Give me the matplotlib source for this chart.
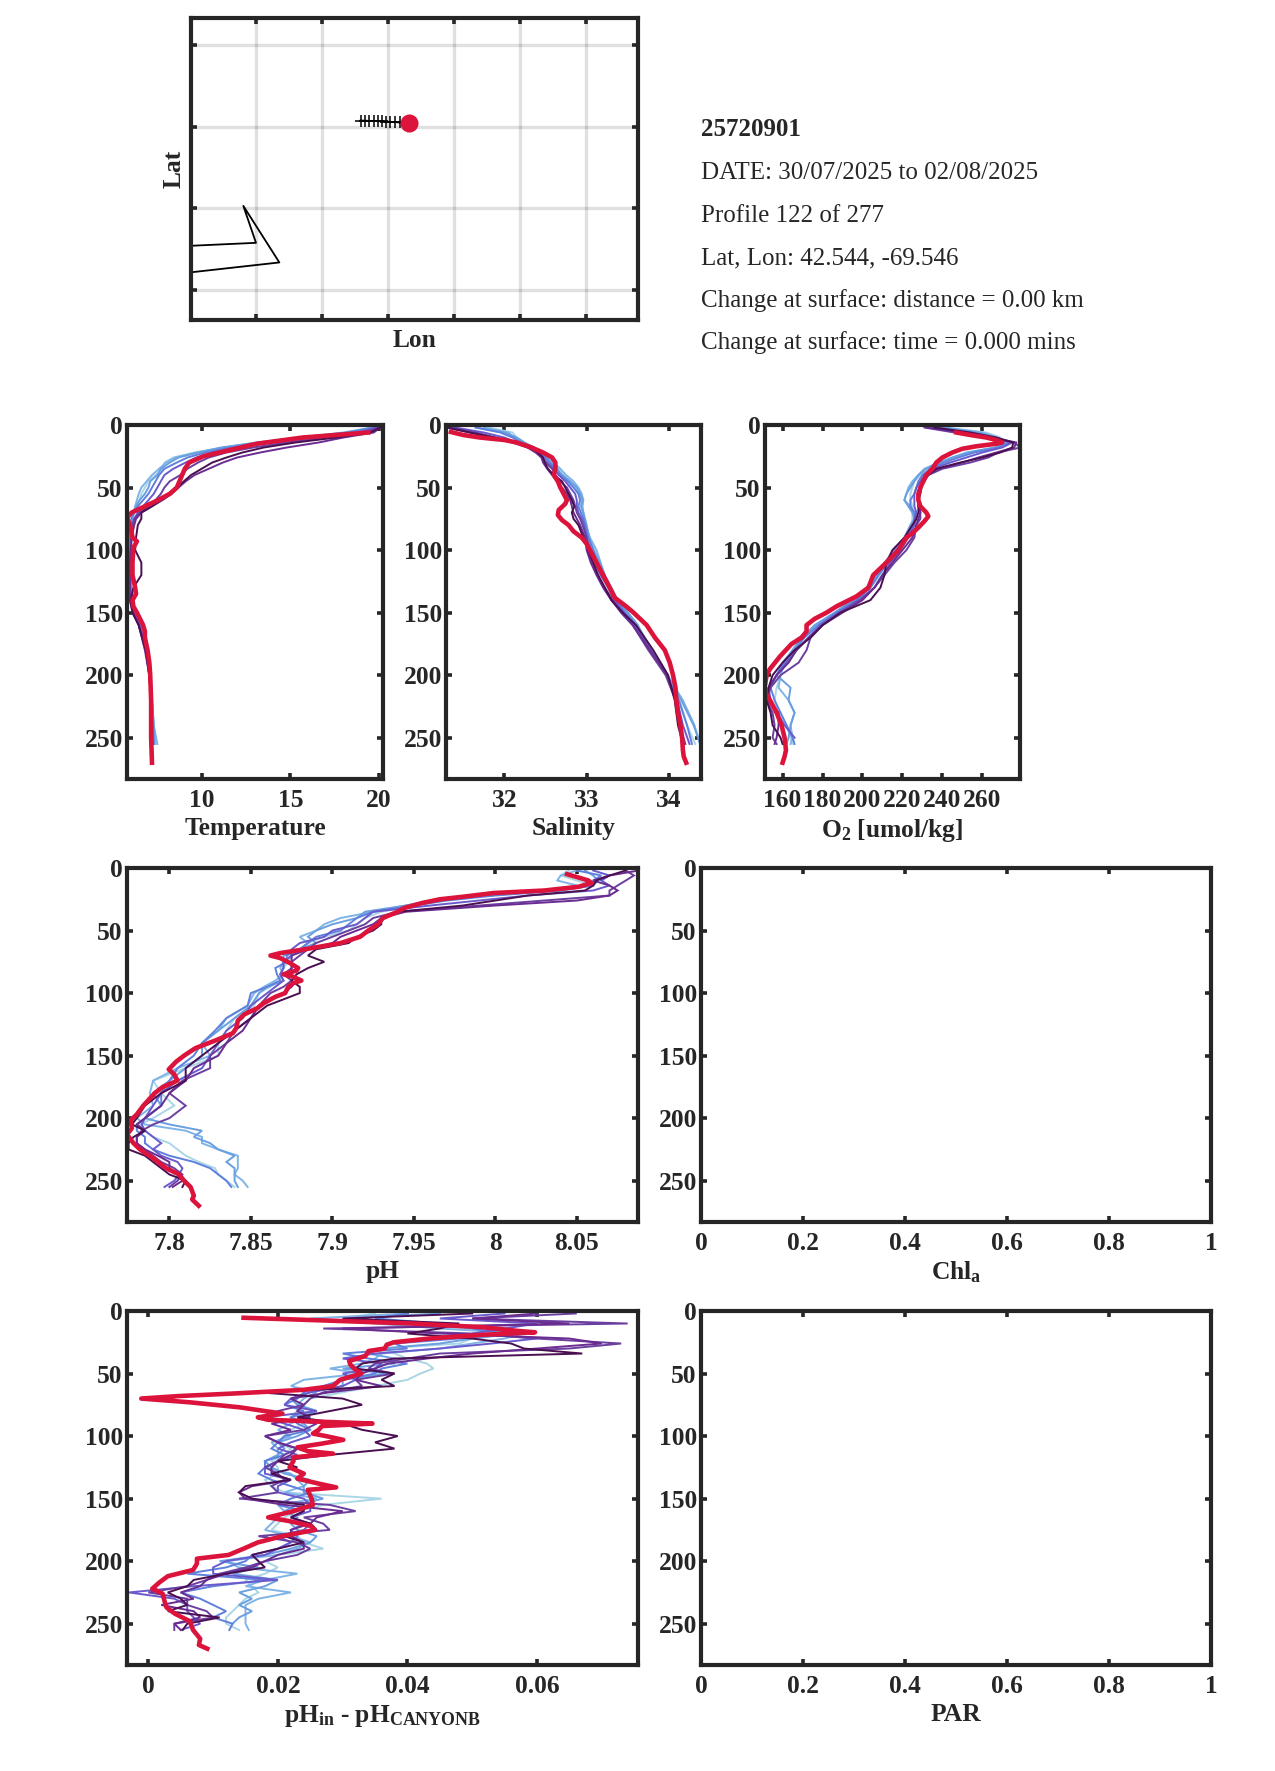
import matplotlib
matplotlib.use("Agg")
import matplotlib.pyplot as plt

plt.rcParams['font.family'] = ['Liberation Serif', 'DejaVu Serif']
plt.rcParams['mathtext.fontset'] = 'custom'
plt.rcParams['mathtext.rm'] = 'Liberation Serif:bold'
plt.rcParams['mathtext.bf'] = 'Liberation Serif:bold'
plt.rcParams['mathtext.default'] = 'rm'

W, H = 1275, 1771
DARK = '#262626'
RED = '#dc143c'
line_colors = ['#aad6e6', '#7fb4e6', '#6a9fe0', '#5f80dc', '#6a5acd', '#6b3fa0', '#6a2c91', '#4a0f50']

# map panel
track_lon = [-69.912, -69.879, -69.847, -69.811, -69.778, -69.753, -69.72, -69.69, -69.652, -69.614, -69.576, -69.546]
track_lat = [42.558, 42.557, 42.556, 42.555, 42.554, 42.553, 42.552, 42.55, 42.548, 42.546, 42.544, 42.544]
coast_lon = [-71.25, -70.705, -70.801, -70.528, -71.25]
coast_lat = [41.79, 41.81, 42.036, 41.69, 41.625]
map_xticks = [-70.703, -70.203, -69.703, -69.203, -68.703, -68.203]
map_yticks = [43.022, 42.517, 42.022, 41.52]
info_lines = ["25720901", "DATE: 30/07/2025 to 02/08/2025", "Profile 122 of 277", "Lat, Lon: 42.544, -69.546",
              "Change at surface: distance = 0.00 km", "Change at surface: time = 0.000 mins"]

depth_ticks = [0, 50, 100, 150, 200, 250]

# thin profiles, light to dark
t_depth = [2, 6, 10, 14, 18, 22, 26, 30, 35, 40, 45, 50, 55, 60, 65, 70, 75, 80, 90, 100, 110, 120, 130, 140, 150, 160, 180, 200, 220, 240, 255]
temp_lines = [
    [19.7, 18.2, 15.8, 13.2, 11.2, 9.6, 8.4, 7.9, 7.8, 7.4, 7.0, 6.8, 6.6, 6.5, 6.3, 6.2, 6.1, 6.05, 6.0, 5.95, 5.95, 5.95, 6.0, 6.05, 6.2, 6.6, 6.95, 7.1, 7.2, 7.3, 7.45],
    [19.8, 18.3, 15.9, 13.3, 11.3, 9.7, 8.5, 8.0, 7.6, 7.2, 6.9, 6.6, 6.45, 6.35, 6.25, 6.15, 6.05, 6.0, 5.95, 5.95, 5.9, 5.95, 6.0, 6.05, 6.25, 6.6, 6.95, 7.1, 7.2, 7.3, 7.5],
    [19.6, 18.0, 15.6, 13.1, 11.1, 9.8, 8.7, 8.2, 7.7, 7.5, 7.1, 7.0, 6.8, 6.5, 6.3, 6.15, 6.05, 6.0, 5.95, 5.9, 5.95, 6.0, 6.0, 6.1, 6.25, 6.6, 6.9, 7.1, 7.2, 7.3, 7.35],
    [19.8, 18.4, 16.0, 13.5, 11.6, 10.2, 9.2, 8.6, 7.9, 7.6, 7.4, 7.2, 7.0, 6.7, 6.4, 6.2, 6.05, 6.0, 5.95, 5.95, 5.95, 6.0, 6.0, 6.05, 6.2, 6.5, 6.9, 7.1, 7.2, 7.25, 7.3],
    [19.9, 18.8, 16.5, 14.0, 12.0, 10.6, 9.7, 9.1, 8.4, 7.9, 7.7, 7.5, 7.3, 7.0, 6.7, 6.4, 6.2, 6.1, 6.0, 6.0, 5.95, 5.95, 5.95, 6.0, 6.2, 6.5, 6.85, 7.05, 7.15, 7.2, 7.25],
    [20.0, 19.2, 17.2, 14.8, 12.9, 11.4, 10.4, 9.8, 9.2, 8.8, 8.2, 7.9, 7.7, 7.4, 7.0, 6.5, 6.2, 6.1, 6.05, 6.0, 5.95, 5.95, 5.95, 5.95, 6.15, 6.45, 6.85, 7.05, 7.15, 7.2, 7.2],
    [20.1, 19.7, 18.0, 16.6, 14.8, 13.3, 12.0, 11.2, 10.4, 9.6, 9.1, 8.7, 8.3, 7.8, 7.2, 6.6, 6.3, 6.2, 6.05, 6.0, 5.95, 5.95, 5.95, 5.95, 6.1, 6.45, 6.8, 7.05, 7.15, 7.2, 7.2],
    [20.1, 19.5, 17.6, 15.3, 13.5, 12.3, 11.4, 10.6, 10.0, 9.4, 9.0, 8.6, 8.3, 7.7, 7.2, 6.6, 6.6, 6.4, 6.3, 6.25, 6.6, 6.6, 6.15, 6.0, 6.1, 6.45, 6.85, 7.05, 7.15, 7.15, 7.15],
]
temp_red_depth = [6, 10, 15, 20, 25, 30, 35, 40, 50, 55, 60, 65, 70, 74, 78, 82, 90, 93, 98, 110, 120, 130, 135, 140, 145, 150, 160, 165, 170, 180, 190, 200, 220, 250, 270]
temp_red = [19.4, 15.7, 13.1, 11.6, 10.1, 9.3, 9.05, 8.9, 8.6, 8.2, 7.55, 6.8, 6.05, 5.8, 5.9, 6.0, 6.1, 6.35, 6.15, 6.1, 6.1, 6.25, 6.3, 6.1, 6.15, 6.35, 6.7, 6.8, 6.8, 6.95, 7.05, 7.1, 7.15, 7.15, 7.2]

sal_lines = [
    [31.8, 32.1, 32.15, 32.25, 32.36, 32.45, 32.52, 32.58, 32.65, 32.72, 32.8, 32.86, 32.9, 32.93, 32.94, 32.95, 32.96, 32.98, 33.03, 33.1, 33.15, 33.22, 33.28, 33.38, 33.5, 33.62, 33.8, 33.99, 34.13, 34.22, 34.32],
    [31.75, 32.05, 32.12, 32.22, 32.35, 32.44, 32.52, 32.6, 32.68, 32.75, 32.84, 32.9, 32.94, 32.96, 32.95, 32.96, 32.97, 32.99, 33.04, 33.12, 33.17, 33.22, 33.28, 33.38, 33.5, 33.62, 33.78, 33.98, 34.17, 34.31, 34.38],
    [31.65, 32.0, 32.15, 32.24, 32.36, 32.44, 32.51, 32.56, 32.64, 32.7, 32.8, 32.88, 32.92, 32.95, 32.93, 32.96, 32.98, 33.0, 33.03, 33.08, 33.16, 33.22, 33.3, 33.38, 33.5, 33.62, 33.77, 33.98, 34.15, 34.3, 34.38],
    [31.65, 31.95, 32.1, 32.2, 32.33, 32.42, 32.5, 32.55, 32.62, 32.68, 32.77, 32.84, 32.9, 32.92, 32.9, 32.93, 32.96, 32.98, 33.02, 33.08, 33.13, 33.2, 33.28, 33.36, 33.47, 33.6, 33.78, 33.97, 34.12, 34.22, 34.28],
    [31.4, 31.75, 32.0, 32.15, 32.3, 32.4, 32.47, 32.52, 32.6, 32.66, 32.74, 32.8, 32.86, 32.88, 32.88, 32.9, 32.94, 32.97, 33.0, 33.05, 33.1, 33.17, 33.26, 33.34, 33.45, 33.58, 33.78, 33.97, 34.1, 34.17, 34.25],
    [31.35, 31.65, 31.9, 32.12, 32.3, 32.4, 32.46, 32.5, 32.58, 32.62, 32.68, 32.76, 32.8, 32.84, 32.86, 32.88, 32.92, 32.95, 33.0, 33.02, 33.06, 33.13, 33.22, 33.32, 33.42, 33.56, 33.75, 33.96, 34.08, 34.13, 34.2],
    [31.3, 31.58, 31.85, 32.1, 32.28, 32.38, 32.45, 32.47, 32.52, 32.58, 32.64, 32.7, 32.76, 32.8, 32.82, 32.84, 32.88, 32.92, 32.98, 33.0, 33.05, 33.12, 33.2, 33.3, 33.42, 33.56, 33.77, 33.98, 34.08, 34.13, 34.18],
    [31.3, 31.58, 31.87, 32.15, 32.31, 32.41, 32.47, 32.49, 32.53, 32.6, 32.7, 32.74, 32.78, 32.82, 32.85, 32.82, 32.84, 32.9, 32.96, 33.02, 33.08, 33.14, 33.22, 33.3, 33.44, 33.6, 33.81, 33.99, 34.07, 34.11, 34.17],
]
sal_red_depth = [5.6, 8, 10, 12, 14, 18, 22, 26, 30, 35, 40, 45, 50, 55, 60, 63, 68, 72, 76, 80, 85, 90, 95, 100, 110, 120, 130, 138, 145, 150, 160, 170, 180, 190, 200, 210, 220, 230, 240, 250, 260, 265, 270]
sal_red = [31.35, 31.5, 31.7, 32.0, 32.15, 32.33, 32.47, 32.58, 32.62, 32.62, 32.6, 32.65, 32.68, 32.72, 32.76, 32.74, 32.66, 32.65, 32.7, 32.78, 32.84, 32.94, 33.0, 33.04, 33.12, 33.2, 33.28, 33.34, 33.48, 33.57, 33.73, 33.83, 33.95, 34.01, 34.05, 34.08, 34.09, 34.11, 34.14, 34.16, 34.17, 34.18, 34.21]

o_depth = [2, 6, 10, 14, 18, 22, 26, 30, 35, 40, 45, 50, 55, 60, 65, 70, 75, 80, 90, 100, 110, 120, 130, 140, 150, 160, 170, 180, 190, 200, 210, 220, 230, 240, 250, 255]
o2_lines = [
    [242, 262, 269, 271, 267, 254, 247, 240, 232, 229, 226, 225, 224, 224, 225, 225, 225, 224.6, 221, 216, 213, 209, 204, 196, 187, 177, 168, 165, 161, 159, 157, 156, 158, 162, 164, 165],
    [240, 260, 268, 272, 266, 252, 245, 238, 231, 228, 225, 223, 222, 221, 224, 226, 226, 225, 222, 216, 212, 207, 203, 196, 187, 177, 170, 166, 161, 159, 158, 163, 166, 164, 165, 164],
    [240, 258, 267, 272, 267, 253, 245, 239, 232, 228, 226, 224, 222, 221, 223, 225, 226, 224, 221, 216, 211, 207, 202, 195, 186, 176, 170, 165, 160, 157, 164, 163, 166, 164, 163, 162],
    [236, 255, 266, 274, 268, 256, 248, 241, 234, 230, 228, 227, 226, 224, 224, 226, 227, 226, 222, 217, 213, 208, 204, 197, 187, 178, 171, 166, 161, 157, 154, 156, 159, 162, 165, 166],
    [235, 252, 264, 275, 270, 260, 252, 244, 235, 231, 229, 227, 226, 226, 226, 227, 226, 226, 223, 219, 214, 210, 206, 198, 188, 179, 173, 167, 162, 157, 153, 154, 157, 161, 166],
    [231, 246, 262, 276, 279, 268, 263, 254, 240, 233, 231, 229, 228, 228, 229, 229, 229, 227, 226, 222, 216, 211, 206, 199, 189, 180, 174, 172, 168, 159, 154, 152, 155, 156, 155, 157],
    [232, 250, 265, 277, 276, 267, 258, 250, 238, 232, 230, 229, 228, 228, 228, 229, 228, 227, 225, 220, 215, 210, 206, 200, 190, 180, 173, 167, 163, 157, 153, 153, 158, 158, 157, 156],
    [236, 254, 267, 275.5, 275, 269, 260, 249, 237, 233, 230, 229.6, 229, 228, 228, 228, 227, 225, 221, 215, 212, 211, 209, 204, 189, 180, 174, 166, 160, 155, 153, 152, 154, 155, 159, 160],
]
o2_red_depth = [6, 8, 10, 12, 14, 15, 17, 19, 22, 26, 30, 35, 40, 45, 50, 55, 60, 65, 70, 73, 77, 82, 87, 90, 100, 110, 115, 120, 130, 137, 145, 150, 155, 160, 165, 170, 175, 185, 195, 200, 210, 215, 220, 230, 240, 250, 260, 265, 270]
o2_red = [247, 254, 262, 267, 270, 267, 257, 250, 245, 240, 237, 235, 232, 230.5, 229, 228, 228, 229, 232, 233, 231, 228, 224.6, 222, 218, 212, 208.7, 205.4, 203, 197, 187, 182, 176, 172, 172, 169.5, 164.5, 158.7, 153.7, 152, 151, 151.8, 153.7, 157, 159.5, 161, 161.7, 161, 160]

ph_depth = [2, 6, 10, 14, 18, 22, 26, 30, 35, 40, 45, 50, 55, 60, 65, 70, 75, 80, 85, 90, 95, 100, 110, 120, 130, 140, 150, 160, 170, 180, 190, 200, 205, 210, 215, 220, 225, 230, 235, 240, 245, 250, 255]
ph_lines = [
    [8.045, 8.04, 8.05, 8.06, 8.04, 7.995, 7.97, 7.95, 7.93, 7.92, 7.915, 7.91, 7.895, 7.885, 7.88, 7.875, 7.873, 7.87, 7.868, 7.868, 7.862, 7.855, 7.852, 7.84, 7.835, 7.83, 7.83, 7.81, 7.79, 7.795, 7.803, 7.79, 7.782, 7.785, 7.79, 7.8, 7.805, 7.81, 7.818, 7.828, 7.83, 7.835, 7.84],
    [8.05, 8.04, 8.038, 8.05, 8.04, 7.99, 7.965, 7.945, 7.925, 7.905, 7.895, 7.89, 7.88, 7.885, 7.88, 7.875, 7.87, 7.868, 7.87, 7.865, 7.858, 7.852, 7.848, 7.835, 7.83, 7.82, 7.825, 7.805, 7.79, 7.788, 7.79, 7.78, 7.785, 7.81, 7.82, 7.82, 7.83, 7.842, 7.842, 7.842, 7.84, 7.845, 7.848],
    [8.055, 8.06, 8.063, 8.06, 8.03, 7.985, 7.96, 7.945, 7.92, 7.915, 7.9, 7.89, 7.885, 7.89, 7.88, 7.87, 7.87, 7.87, 7.868, 7.87, 7.86, 7.855, 7.85, 7.84, 7.83, 7.82, 7.82, 7.81, 7.8, 7.79, 7.795, 7.785, 7.8, 7.82, 7.815, 7.825, 7.83, 7.84, 7.835, 7.84, 7.84, 7.84, 7.842],
    [8.05, 8.065, 8.06, 8.06, 8.04, 8.0, 7.97, 7.95, 7.925, 7.915, 7.91, 7.905, 7.89, 7.885, 7.88, 7.872, 7.872, 7.865, 7.866, 7.868, 7.86, 7.85, 7.848, 7.835, 7.828, 7.82, 7.815, 7.805, 7.8, 7.795, 7.795, 7.785, 7.78, 7.78, 7.785, 7.785, 7.79, 7.8, 7.815, 7.825, 7.83, 7.835, 7.838],
    [8.06, 8.07, 8.065, 8.07, 8.06, 8.02, 7.99, 7.96, 7.925, 7.92, 7.915, 7.9, 7.895, 7.88, 7.875, 7.875, 7.87, 7.87, 7.868, 7.87, 7.865, 7.86, 7.85, 7.845, 7.835, 7.83, 7.825, 7.82, 7.805, 7.795, 7.79, 7.785, 7.783, 7.785, 7.79, 7.795, 7.79, 7.795, 7.805, 7.808, 7.806, 7.803, 7.797],
    [8.08, 8.085, 8.08, 8.075, 8.07, 8.07, 8.03, 7.99, 7.94, 7.925, 7.92, 7.91, 7.9, 7.89, 7.885, 7.88, 7.875, 7.875, 7.87, 7.875, 7.87, 7.862, 7.855, 7.85, 7.84, 7.835, 7.825, 7.825, 7.808, 7.8, 7.81, 7.8, 7.79, 7.783, 7.78, 7.78, 7.785, 7.79, 7.795, 7.803, 7.808, 7.805, 7.8],
    [8.088, 8.07, 8.06, 8.07, 8.075, 8.07, 8.05, 8.0, 7.945, 7.93, 7.925, 7.915, 7.905, 7.9, 7.885, 7.875, 7.875, 7.875, 7.875, 7.878, 7.875, 7.87, 7.855, 7.85, 7.845, 7.835, 7.83, 7.815, 7.81, 7.8, 7.795, 7.785, 7.78, 7.785, 7.78, 7.78, 7.785, 7.793, 7.8, 7.8, 7.805, 7.808, 7.802],
    [8.08, 8.07, 8.062, 8.06, 8.055, 8.02, 8.0, 7.98, 7.94, 7.93, 7.93, 7.925, 7.915, 7.91, 7.89, 7.885, 7.895, 7.885, 7.878, 7.875, 7.88, 7.88, 7.86, 7.85, 7.84, 7.83, 7.82, 7.81, 7.81, 7.795, 7.785, 7.78, 7.777, 7.785, 7.778, 7.775, 7.775, 7.785, 7.79, 7.795, 7.8, 7.81, 7.808],
]
ph_red_depth = [5, 8, 10, 12, 15, 18, 20, 23, 25, 28, 32, 35, 40, 45, 50, 55, 60, 65, 68, 70, 72, 76, 80, 82, 85, 87, 90, 92, 95, 100, 103, 108, 112, 117, 122, 128, 132, 138, 144, 150, 155, 161, 165, 170, 175, 180, 190, 197, 202, 208, 213, 220, 225, 232, 240, 245, 250, 255, 262, 265, 270]
ph_red = [8.044, 8.052, 8.057, 8.059, 8.051, 8.03, 7.999, 7.98, 7.966, 7.955, 7.944, 7.94, 7.931, 7.928, 7.922, 7.917, 7.905, 7.883, 7.868, 7.862, 7.868, 7.874, 7.879, 7.878, 7.87, 7.876, 7.881, 7.876, 7.873, 7.871, 7.865, 7.858, 7.854, 7.846, 7.842, 7.841, 7.839, 7.828, 7.816, 7.809, 7.804, 7.7996, 7.803, 7.805, 7.796, 7.791, 7.784, 7.78, 7.776, 7.777, 7.774, 7.778, 7.782, 7.79, 7.798, 7.806, 7.809, 7.813, 7.815, 7.814, 7.818]

diff_depth = [2, 6, 10, 14, 18, 22, 26, 30, 34, 38, 42, 46, 50, 55, 60, 65, 70, 75, 80, 85, 90, 95, 100, 105, 110, 115, 120, 125, 130, 135, 140, 145, 150, 155, 160, 165, 170, 175, 180, 185, 190, 195, 200, 205, 210, 215, 220, 225, 230, 235, 240, 245, 250, 255]
diff_lines = [
    [.035, .03, .036, .05, .053, .05, .048, .036, .038, .04, .043, .044, .042, .04, .035, .03, .025, .024, .023, .022, .024, .022, .021, .02, .022, .021, .019, .02, .02, .018, .019, .021, .036, .027, .023, .021, .02, .019, .023, .024, .027, .02, .018, .02, .018, .015, .016, .017, .015, .014, .013, .012, .012, .014],
    [.04, .025, .035, .045, .058, .055, .05, .045, .036, .035, .033, .028, .033, .024, .022, .026, .024, .023, .026, .024, .022, .02, .022, .019, .02, .02, .02, .018, .022, .023, .024, .021, .026, .02, .021, .02, .019, .018, .022, .025, .023, .02, .012, .014, .023, .018, .015, .022, .017, .015, .015, .015, .015, .0155],
    [.045, .03, .04, .052, .057, .05, .045, .036, .034, .038, .038, .03, .037, .03, .03, .025, .022, .023, .026, .022, .024, .025, .023, .02, .021, .02, .018, .019, .021, .025, .024, .024, .027, .023, .021, .023, .022, .023, .026, .025, .022, .018, .011, .017, .013, .02, .018, .014, .016, .014, .016, .014, .013],
    [.04, .035, .045, .05, .055, .048, .038, .04, .03, .034, .04, .036, .035, .03, .027, .024, .023, .021, .024, .022, .023, .025, .021, .02, .019, .021, .018, .018, .017, .019, .022, .025, .022, .02, .024, .022, .024, .022, .023, .022, .02, .016, .015, .012, .006, .018, .01, .005, .008, .01, .012, .01, .013, .0125],
    [.055, .045, .06, .055, .05, .06, .053, .045, .035, .03, .036, .035, .03, .032, .03, .025, .022, .021, .026, .018, .021, .024, .025, .022, .02, .023, .02, .018, .018, .022, .02, .02, .024, .025, .025, .022, .025, .024, .02, .022, .02, .018, .012, .01, .01, .02, .007, -.003, .004, .006, .006, .007, .008, .005],
    [.066, .05, .074, .027, .05, .06, .073, .065, .045, .04, .035, .034, .038, .032, .033, .027, .025, .024, .02, .018, .026, .024, .018, .02, .023, .021, .02, .018, .02, .021, .019, .02, .014, .028, .032, .024, .027, .028, .017, .023, .025, .023, .018, .015, .011, .009, .006, .0, .006, .006, .009, .01, .004, .004],
    [.06, .05, .065, .03, .045, .065, .07, .06, .05, .043, .037, .035, .033, .032, .036, .028, .022, .024, .023, .025, .019, .022, .018, .02, .023, .022, .02, .019, .019, .022, .016, .014, .015, .021, .03, .026, .025, .022, .022, .024, .024, .02, .018, .016, .012, .009, .008, .005, .007, .002, .007, .008, .004, .005],
    [.05, .03, .048, .045, .04, .05, .056, .058, .067, .038, .033, .032, .038, .036, .038, .017, .03, .033, .028, .023, .03, .033, .0385, .035, .038, .028, .02, .023, .019, .022, .015, .014, .016, .024, .024, .022, .025, .026, .021, .024, .02, .016, .017, .018, .012, .007, .006, .003, .005, .006, .003, .011, .006, .0053],
]
diff_red_depth = [5.4, 8, 10, 13, 16, 17, 19, 22, 25, 27, 30, 32, 36, 40, 43, 47, 50, 55, 60, 63, 66, 68, 70, 73, 77, 80, 82, 85, 87, 90, 92, 95, 98, 100, 103, 106, 109, 112, 114, 117, 120, 125, 130, 134, 138, 141, 143, 150, 155, 160, 165, 168, 172, 175, 180, 185, 190, 195, 198, 202, 207, 212, 217, 222, 226, 232, 237, 242, 248, 255, 262, 267, 270]
diff_red = [.0147, .0296, .0406, .0517, .0572, .0597, .0517, .0434, .0379, .0368, .0365, .034, .0335, .031, .0312, .032, .0329, .0296, .0285, .024, .013, .0047, -.0011, .0064, .0141, .018, .0207, .0169, .0185, .0346, .0268, .0263, .0254, .0274, .0301, .0268, .023, .0246, .0285, .0224, .0224, .0218, .024, .023, .0263, .029, .0246, .0252, .0254, .0224, .0185, .0218, .0252, .0257, .0207, .0169, .0147, .0124, .0075, .0075, .0069, .003, .0017, .0006, .0022, .0025, .0028, .0041, .0064, .0069, .008, .0078, .0091]


def add_axes(left, right, top, bottom):
    return fig.add_axes([left / W, 1 - bottom / H, (right - left) / W, (bottom - top) / H])


def style_axes(ax, tick_size=18.4):
    for s in ax.spines.values():
        s.set_linewidth(3.0)
        s.set_color(DARK)
    ax.tick_params(direction='in', length=4.5, width=2.6, color=DARK, top=True, right=True, labelcolor=DARK)
    for lab in ax.get_xticklabels() + ax.get_yticklabels():
        lab.set_fontsize(tick_size)
        lab.set_fontweight('bold')


def profile_panel(box, xlim, xticks, xticklabels, xlabel, lines=None, grid=None, red_x=None, red_d=None):
    ax = add_axes(*box)
    if lines is not None:
        for vals, col in zip(lines, line_colors):
            ax.plot(vals, grid[:len(vals)], color=col, lw=1.4, solid_joinstyle='miter')
        ax.plot(red_x, red_d, color=RED, lw=3.3)
    ax.set_xlim(xlim)
    ax.set_ylim(283, 0)
    ax.set_xticks(xticks)
    ax.set_xticklabels(xticklabels)
    ax.set_yticks(depth_ticks)
    ax.tick_params(axis='x', pad=7)
    ax.tick_params(axis='y', pad=3)
    style_axes(ax)
    ax.set_xlabel(xlabel, fontsize=18.4, fontweight='bold', color=DARK, labelpad=3.5)
    return ax


fig = plt.figure(figsize=(W / 100, H / 100), dpi=100)

# map
ax_map = add_axes(190.7, 638, 18, 320)
ax_map.plot(coast_lon, coast_lat, color='k', lw=1.3)
ax_map.plot(track_lon[:-1], track_lat[:-1], color='k', lw=1.3, marker='+', ms=9, mew=1.1)
ax_map.plot(track_lon[-1], track_lat[-1], 'o', color=RED, ms=13, mec='none')
ax_map.set_xlim(-71.2, -67.809)
ax_map.set_ylim(41.338, 43.185)
ax_map.set_xticks(map_xticks)
ax_map.set_yticks(map_yticks)
ax_map.set_xticklabels([])
ax_map.set_yticklabels([])
ax_map.grid(True, color='k', alpha=0.12, lw=2.4)
ax_map.set_axisbelow(True)
style_axes(ax_map)
ax_map.set_xlabel('Lon', fontsize=18.4, fontweight='bold', color=DARK, labelpad=3)
ax_map.set_ylabel('Lat', fontsize=18.4, fontweight='bold', color=DARK, labelpad=0)

info_y = [130, 173, 216, 258, 301, 343]
for i, (txt, y) in enumerate(zip(info_lines, info_y)):
    fig.text(701 / W, 1 - y / H, txt, fontsize=18, va='center', ha='left', color=DARK,
             fontweight='bold' if i == 0 else 'normal')

# top row
profile_panel((127, 383, 425, 779), (5.79, 20.23), [10, 15, 20], ['10', '15', '20'], 'Temperature',
              temp_lines, t_depth, temp_red, temp_red_depth)
profile_panel((446, 701, 425, 779), (31.29, 34.39), [32, 33, 34], ['32', '33', '34'], 'Salinity',
              sal_lines, t_depth, sal_red, sal_red_depth)
profile_panel((765, 1020, 425, 779), (151.2, 278.9), [160, 180, 200, 220, 240, 260],
              ['160', '180', '200', '220', '240', '260'], r'$\mathbf{O_2}$ [umol/kg]',
              o2_lines, o_depth, o2_red, o2_red_depth)

# middle row
profile_panel((127, 638, 868, 1222), (7.774, 8.0875), [7.8, 7.85, 7.9, 7.95, 8, 8.05],
              ['7.8', '7.85', '7.9', '7.95', '8', '8.05'], 'pH', ph_lines, ph_depth, ph_red, ph_red_depth)
frac_ticks = [0, 0.2, 0.4, 0.6, 0.8, 1]
frac_labels = ['0', '0.2', '0.4', '0.6', '0.8', '1']
profile_panel((701, 1211, 868, 1222), (0, 1), frac_ticks, frac_labels, r'$\mathbf{Chl_a}$')

# bottom row
profile_panel((127, 638, 1311, 1665), (-0.0033, 0.0756), [0, 0.02, 0.04, 0.06], ['0', '0.02', '0.04', '0.06'],
              r'$\mathbf{pH_{in}}$ - $\mathbf{pH_{CANYONB}}$', diff_lines, diff_depth, diff_red, diff_red_depth)
profile_panel((701, 1211, 1311, 1665), (0, 1), frac_ticks, frac_labels, 'PAR')

fig.savefig('out.png', dpi=100)
